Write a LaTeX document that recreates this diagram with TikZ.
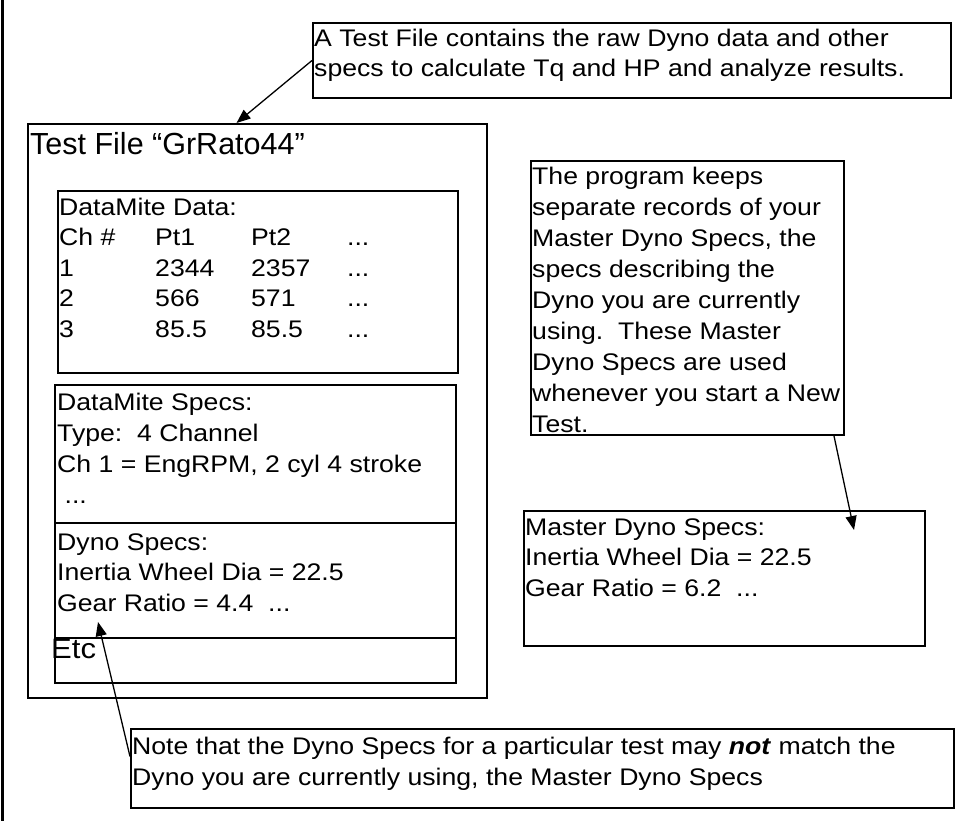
\documentclass[tikz,border=0pt]{standalone}
\usepackage{fontspec}
\setmainfont{Liberation Sans}
\newfontfamily\widefont{Liberation Sans}[FakeStretch=1.11]
\usetikzlibrary{arrows.meta,positioning}
\newcommand{\datarow}[4]{\makebox[96pt][l]{#1}\makebox[96pt][l]{#2}\makebox[96pt][l]{#3}#4}

\begin{document}
\begin{tikzpicture}[x=1pt, y=-1pt, >={Triangle[length=14pt,width=11pt]},
  box/.style={draw, line width=2pt, inner sep=0pt, anchor=north west},
  lbl/.style={anchor=base west, inner sep=0pt, align=left,
              font=\widefont\fontsize{24}{30.5}\selectfont},
  big/.style={anchor=base west, inner sep=0pt, font=\fontsize{30.5}{36}\selectfont},
  link/.style={->, line width=1.3pt}]
  \useasboundingbox (0,0) rectangle (963,821);
  \draw[line width=3pt] (2,0) -- (2,821);

  % what a test file holds (texts sit on their last baseline)
  \node[box, minimum width=638pt, minimum height=75pt] (note1) at (312,22) {};
  \node[lbl] (note1txt) at (314,77)
       {A Test File contains the raw Dyno data and other\\
        specs to calculate Tq and HP and analyze results.};

  % the test file and its parts
  \node[box, minimum width=459pt, minimum height=574pt] (file) at (27,123) {};
  \node[big] (title) at (30,155) {Test File “GrRato44”};

  \node[box, minimum width=400pt, minimum height=182pt] (data) at (57,190) {};
  \node[lbl] (datatxt) at (59,337)
       {DataMite Data:\\
        \datarow{Ch \#}{Pt1}{Pt2}{...}\\
        \datarow{1}{2344}{2357}{...}\\
        \datarow{2}{566}{571}{...}\\
        \datarow{3}{85.5}{85.5}{...}};

  \node[box, minimum width=401pt, minimum height=138pt] (dmspecs) at (54,384) {};
  \node[lbl, font=\widefont\fontsize{24}{31}\selectfont] (dmspecstxt) at (57,503)
       {DataMite Specs:\\
        Type:\ \ 4 Channel\\
        Ch 1 = EngRPM, 2 cyl 4 stroke\\
        \ ...};

  \node[box, minimum width=401pt, minimum height=115pt] (dyno) at (54,522) {};
  \node[lbl] (dynotxt) at (57,611)
       {Dyno Specs:\\
        Inertia Wheel Dia = 22.5\\
        Gear Ratio = 4.4\ \ ...};

  \node[box, minimum width=401pt, minimum height=45pt] (etc) at (54,637) {};
  \node[big, font=\widefont\fontsize{28}{32}\selectfont] (etctxt) at (51,658) {Etc};

  % master specs on the right
  \node[box, minimum width=313pt, minimum height=274pt] (note2) at (530,160) {};
  \node[lbl, font=\widefont\fontsize{24}{30.9}\selectfont] (note2txt) at (532,432)
       {The program keeps\\
        separate records of your\\
        Master Dyno Specs, the\\
        specs describing the\\
        Dyno you are currently\\
        using.\ \ These Master\\
        Dyno Specs are used\\
        whenever you start a New\\
        Test.};

  \node[box, minimum width=401pt, minimum height=135pt] (master) at (523,510) {};
  \node[lbl] (mastertxt) at (525,596)
       {Master Dyno Specs:\\
        Inertia Wheel Dia = 22.5\\
        Gear Ratio = 6.2\ \ ...};

  % note at the bottom
  \node[box, minimum width=823pt, minimum height=79pt] (note3) at (130,728) {};
  \node[lbl] (note3txt) at (132,785)
       {Note that the Dyno Specs for a particular test may \textbf{\textit{not}} match the\\
        Dyno you are currently using, the Master Dyno Specs};

  \draw[link] (note1.west) -- ([xshift=-21pt]file.north);
  \draw[link] ([yshift=12pt]note3.west) -- ([xshift=44pt,yshift=17pt]dyno.south west);
  \draw[link] ([xshift=-11pt]note2.south east) -- ([xshift=-72pt,yshift=-20pt]master.north east);
\end{tikzpicture}
\end{document}
